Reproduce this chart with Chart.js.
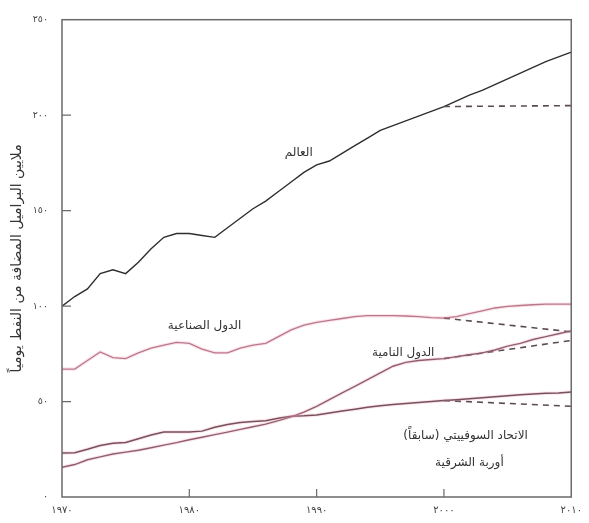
<!DOCTYPE html>
<html lang="ar">
<head>
<meta charset="utf-8">
<title>استهلاك النفط</title>
<script src="https://cdn.jsdelivr.net/npm/chart.js@4/dist/chart.umd.min.js"></script>
<style>
  html, body { margin: 0; padding: 0; background: #ffffff; }
  #wrap { width: 589px; height: 523px; }
</style>
</head>
<body>
<div id="wrap"><canvas id="oil" width="589" height="523"></canvas></div>
<script>
// Years of the historical record (solid lines)
const years = [
  1970, 1971, 1972, 1973, 1974, 1975, 1976, 1977, 1978, 1979,
  1980, 1981, 1982, 1983, 1984, 1985, 1986, 1987, 1988, 1989,
  1990, 1991, 1992, 1993, 1994, 1995, 1996, 1997, 1998, 1999,
  2000, 2001, 2002, 2003, 2004, 2005, 2006, 2007, 2008, 2009, 2010
];

// Million barrels per day, by region
const worldValues = [
  100, 105, 109, 117, 119, 117, 123, 130, 136, 138,
  138, 137, 136, 141, 146, 151, 155, 160, 165, 170,
  174, 176, 180, 184, 188, 192, 194.5, 197, 199.5, 202,
  204.5, 207.5, 210.5, 213, 216, 219, 222, 225, 228, 230.5, 233
];
const industrialValues = [
  67, 67, 71.5, 76, 73, 72.5, 75.5, 78, 79.5, 81,
  80.5, 77.5, 75.5, 75.5, 78, 79.5, 80.5, 84, 87.5, 90,
  91.5, 92.5, 93.5, 94.5, 95, 95, 95, 94.8, 94.5, 94,
  93.7, 94.5, 96, 97.5, 99, 99.8, 100.3, 100.7, 101, 101, 101
];
const developingValues = [
  15.6, 17, 19.5, 21, 22.5, 23.5, 24.5, 25.8, 27.2, 28.5,
  30, 31.3, 32.7, 34, 35.4, 36.8, 38.2, 40, 42, 44.5,
  47.5, 51, 54.5, 58, 61.5, 65, 68.5, 70.5, 71.5, 72,
  72.5, 73.5, 74.5, 75.5, 77, 79, 80.5, 82.5, 84, 85.5, 87
];
const easternValues = [
  23, 23.2, 25, 27, 28.2, 28.6, 30.5, 32.5, 34, 34,
  34, 34.5, 36.5, 38, 39, 39.5, 40, 41.2, 42.3, 42.5,
  43, 44, 45, 46, 47, 47.8, 48.5, 49, 49.5, 50,
  50.5, 51, 51.5, 52, 52.5, 53, 53.5, 54, 54.3, 54.5, 55
];

// Alternative outlook 2000–2010 (dashed lines)
const outlookYears = [2000, 2010];
const worldOutlook = [204.5, 205];
const industrialOutlook = [93.7, 86.5];
const developingOutlook = [72.5, 82];
const easternOutlook = [50.5, 47.5];

// Axis ticks and their Arabic-Indic labels
const xTickValues = [1970, 1980, 1990, 2000, 2010];
const xTickLabels = ['١٩٧٠', '١٩٨٠', '١٩٩٠', '٢٠٠٠', '٢٠١٠'];
const yTickValues = [0, 50, 100, 150, 200, 250];
const yTickLabels = ['٠', '٥٠', '١٠٠', '١٥٠', '٢٠٠', '٢٥٠'];
const yTitle = 'ملايين البراميل المضافة من النفط يومياً';

// Region names written next to the curves: [text, year, value]
const curveLabels = [
  ['العالم', 1988.6, 180],
  ['الدول الصناعية', 1981.2, 89.5],
  ['الدول النامية', 1996.8, 75.5],
  ['الاتحاد السوفييتي (سابقاً)', 2001.7, 32],
  ['أوربة الشرقية', 2002, 18]
];

const FONT = '"DejaVu Sans", "Noto Sans", sans-serif';

function pts(xs, ys) { return xs.map((x, i) => ({ x: x, y: ys[i] })); }

function solid(data, color, width) {
  return { data: data, borderColor: color, borderWidth: width, pointRadius: 0,
           tension: 0, fill: false };
}
function dashed(data) {
  return { data: data, borderColor: '#5b4a4f', borderWidth: 1.6, borderDash: [6, 5],
           pointRadius: 0, tension: 0, fill: false };
}

const halo = 'rgba(236,160,182,0.28)';

const datasets = [
  // soft pink glow under the regional curves
  solid(pts(years, industrialValues), halo, 3.5),
  solid(pts(years, developingValues), halo, 3.5),
  solid(pts(years, easternValues), halo, 3.5),
  // outlook
  dashed(pts(outlookYears, worldOutlook)),
  dashed(pts(outlookYears, industrialOutlook)),
  dashed(pts(outlookYears, developingOutlook)),
  dashed(pts(outlookYears, easternOutlook)),
  // history
  solid(pts(years, worldValues), '#2e2e2e', 1.4),
  solid(pts(years, industrialValues), '#a8687a', 1.3),
  solid(pts(years, developingValues), '#6e4452', 1.4),
  solid(pts(years, easternValues), '#4a3238', 1.5)
];

// Frame, inward tick marks and curve names
const decorations = {
  id: 'decorations',
  afterDatasetsDraw(chart) {
    const { ctx, chartArea: a, scales: { x, y } } = chart;
    ctx.save();
    ctx.strokeStyle = '#6a6a6a';
    ctx.lineWidth = 1.5;
    ctx.strokeRect(a.left, a.top, a.right - a.left, a.bottom - a.top);
    ctx.lineWidth = 1.2;
    ctx.beginPath();
    yTickValues.forEach(v => {
      if (v === 0 || v === 250) return;
      const py = y.getPixelForValue(v);
      ctx.moveTo(a.left, py); ctx.lineTo(a.left + 9, py);
    });
    xTickValues.forEach(v => {
      if (v === 1970 || v === 2010) return;
      const px = x.getPixelForValue(v);
      ctx.moveTo(px, a.bottom); ctx.lineTo(px, a.bottom - 8);
    });
    ctx.stroke();

    ctx.fillStyle = '#333333';
    ctx.font = '12px ' + FONT;
    ctx.textAlign = 'center';
    ctx.textBaseline = 'middle';
    ctx.direction = 'rtl';
    curveLabels.forEach(([t, yr, v]) => {
      ctx.fillText(t, x.getPixelForValue(yr), y.getPixelForValue(v));
    });
    ctx.restore();
  }
};

new Chart(document.getElementById('oil'), {
  type: 'line',
  data: { datasets: datasets },
  plugins: [decorations],
  options: {
    responsive: false,
    animation: false,
    devicePixelRatio: 1,
    layout: { padding: { top: 16, right: 15, left: 0, bottom: 0 } },
    plugins: { legend: { display: false }, tooltip: { enabled: false } },
    scales: {
      x: {
        type: 'linear',
        min: 1970, max: 2010,
        afterBuildTicks: s => { s.ticks = xTickValues.map(v => ({ value: v })); },
        afterFit: s => { s.height = 26; },
        grid: { display: false, drawTicks: false },
        border: { display: false },
        ticks: {
          padding: 7,
          color: '#444444',
          font: { family: FONT, size: 10 },
          maxRotation: 0,
          callback: v => xTickLabels[xTickValues.indexOf(v)]
        }
      },
      y: {
        type: 'linear',
        min: 0, max: 250,
        afterBuildTicks: s => { s.ticks = yTickValues.map(v => ({ value: v })); },
        afterFit: s => { s.width = 62; },
        grid: { display: false, drawTicks: false },
        border: { display: false },
        ticks: {
          padding: 14,
          color: '#444444',
          font: { family: FONT, size: 9.5 },
          callback: v => yTickLabels[yTickValues.indexOf(v)]
        },
        title: {
          display: true,
          text: yTitle,
          color: '#333333',
          font: { family: FONT, size: 14 },
          padding: { top: 9, bottom: 0 }
        }
      }
    }
  }
});
</script>
</body>
</html>
